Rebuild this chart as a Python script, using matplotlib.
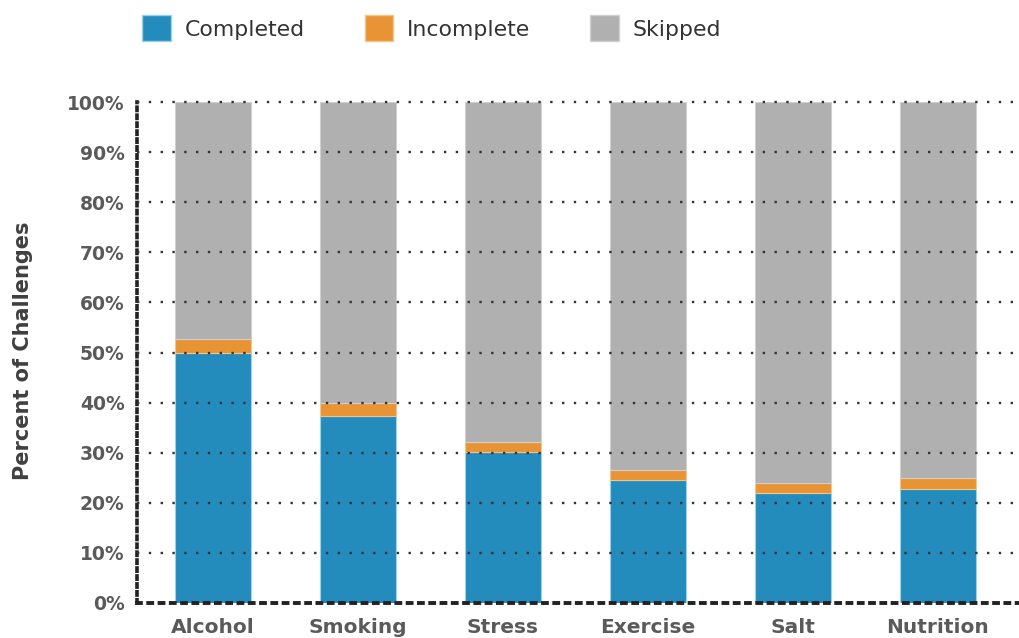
import matplotlib
matplotlib.use("Agg")
import matplotlib.pyplot as plt
from matplotlib.patches import Patch
import numpy as np

categories = ["Alcohol", "Smoking", "Stress", "Exercise", "Salt", "Nutrition"]
completed = [50.0, 37.4, 30.2, 24.5, 21.9, 22.7]
incomplete = [2.6, 2.5, 2.0, 2.0, 2.1, 2.2]
skipped = [100 - c - i for c, i in zip(completed, incomplete)]
yticks = [0, 10, 20, 30, 40, 50, 60, 70, 80, 90, 100]
ytick_labels = [f"{v}%" for v in yticks]

C_BLUE = "#238CBD"
C_ORANGE = "#E99434"
C_GRAY = "#B0B0B0"
FONT = "DejaVu Sans"

fig = plt.figure(figsize=(10.19, 6.38), dpi=100)
ax = fig.add_axes([137/1019, 1 - 603/638, 1 - 137/1019, (603 - 102)/638])

x = np.arange(len(categories))
w = 0.52
ax.bar(x, completed, w, color=C_BLUE, edgecolor="#9fd0e8", linewidth=0.8, zorder=1)
ax.bar(x, incomplete, w, bottom=completed, color=C_ORANGE, edgecolor="#f3c48e", linewidth=0.8, zorder=1)
bot2 = [c + i for c, i in zip(completed, incomplete)]
ax.bar(x, skipped, w, bottom=bot2, color=C_GRAY, edgecolor="#d0d0d0", linewidth=0.8, zorder=1)

ax.set_xlim(-0.525, 5.56)
ax.set_ylim(0, 100)
ax.set_yticks(yticks)
ax.set_yticklabels(ytick_labels)
ax.set_xticks(x)
ax.set_xticklabels(categories)
ax.tick_params(axis="both", length=0)
ax.tick_params(axis="y", pad=9)
ax.tick_params(axis="x", pad=11)
for lab in ax.get_yticklabels():
    lab.set_fontfamily(FONT)
    lab.set_fontweight("bold")
    lab.set_fontsize(13.5)
    lab.set_color("#5a5a5a")
for lab in ax.get_xticklabels():
    lab.set_fontfamily(FONT)
    lab.set_fontweight("bold")
    lab.set_fontsize(14.5)
    lab.set_color("#5a5a5a")

for yv in yticks[1:]:
    ax.axhline(yv, color="#333333", linestyle=(0, (1, 4)), linewidth=1.7, zorder=3, clip_on=False)

for s in ["top", "right"]:
    ax.spines[s].set_visible(False)
ax.spines["left"].set_linestyle((0, (0.9, 1.3)))
ax.spines["left"].set_linewidth(2.6)
ax.spines["left"].set_color("#222222")
ax.spines["bottom"].set_linestyle((0, (1, 1.9)))
ax.spines["bottom"].set_linewidth(2.8)
ax.spines["bottom"].set_color("#222222")
ax.spines["bottom"].set_zorder(4)

fig.text(23/1019, 1 - 351/638, "Percent of Challenges", rotation=90, ha="center", va="center",
         fontfamily=FONT, fontweight="bold", fontsize=15, color="#3f3f3f")

handles = [Patch(facecolor=C_BLUE, edgecolor="#9fd0e8"),
           Patch(facecolor=C_ORANGE, edgecolor="#f3c48e"),
           Patch(facecolor=C_GRAY, edgecolor="#d0d0d0")]
leg = fig.legend(handles, ["Completed", "Incomplete", "Skipped"], ncol=3,
                 loc="upper left", bbox_to_anchor=(127/1019, 1.0), frameon=False,
                 prop={"family": FONT, "size": 15.8},
                 handlelength=1.3, handleheight=1.45, handletextpad=0.62, columnspacing=2.74,
                 borderaxespad=0.3)
for t in leg.get_texts():
    t.set_color("#333333")

fig.savefig("out.png", dpi=100)
